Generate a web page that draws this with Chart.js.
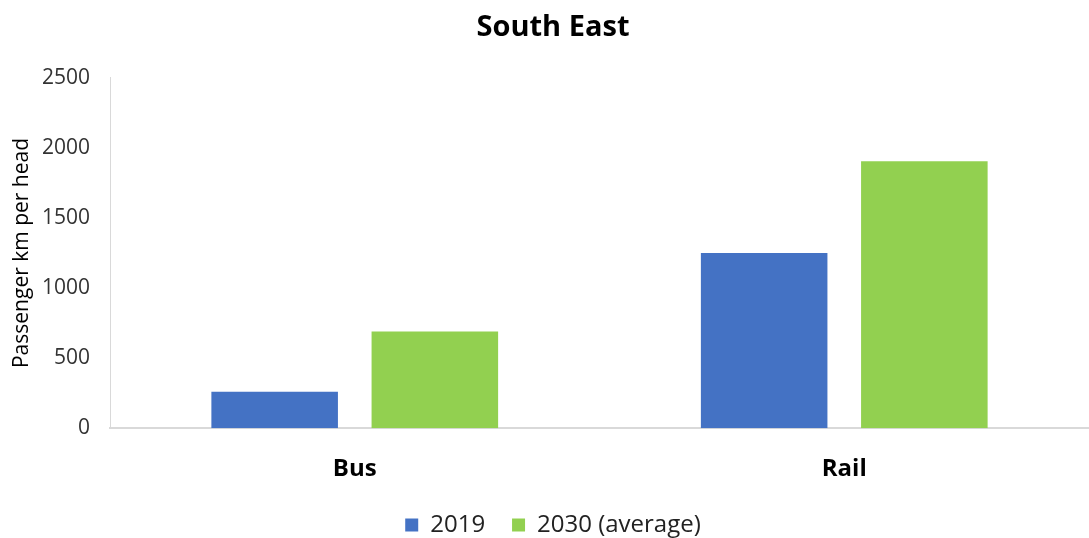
<!DOCTYPE html>
<html>
<head>
<meta charset="utf-8">
<script src="https://cdn.jsdelivr.net/npm/chart.js@4.4.1/dist/chart.umd.min.js"></script>
<style>
  html, body { margin: 0; padding: 0; background: #fff; }
  #wrap { width: 1089px; height: 538px; }
</style>
</head>
<body>
<div id="wrap"><canvas id="myChart" width="1089" height="538"></canvas></div>
<script>
'use strict';

// ****** Data ******
let categories = ['Bus', 'Rail'];
let values2019 = [260, 1250];
let values2030 = [690, 1905];
let seriesNames = ['2019', '2030 (average)'];
let yTicks = [0, 500, 1000, 1500, 2000, 2500];

const ctx = document.getElementById('myChart').getContext('2d');
const fontFamily = '"Open Sans", "Noto Sans", sans-serif';

let myChartObj = {
  type: 'bar',
  data: {
    labels: categories,
    datasets: [{
      label: seriesNames[0],
      data: values2019,
      backgroundColor: '#4472c4'
    },
    {
      label: seriesNames[1],
      data: values2030,
      backgroundColor: '#92d050'
    }]
  },
  options: {
    responsive: false,
    animation: false,
    categoryPercentage: 0.6545,
    barPercentage: 0.79,
    layout: { padding: { left: 9, right: -8, top: 4, bottom: -9 } },
    plugins: {
      title: {
        display: true,
        text: 'South East',
        color: '#000',
        font: { family: fontFamily, size: 29, weight: 'bold' },
        padding: { top: 6, bottom: 33 }
      },
      legend: {
        position: 'bottom',
        labels: {
          color: '#222',
          font: { family: fontFamily, size: 24 },
          boxWidth: 13,
          boxHeight: 13,
          padding: 2,
          // extra room between the two legend entries
          generateLabels: function(chart) {
            let items = Chart.defaults.plugins.legend.labels.generateLabels(chart);
            for (let i = 0; i < items.length - 1; i++) {
              items[i].text = items[i].text + '    ';
            }
            return items;
          }
        }
      },
      tooltip: { enabled: false }
    },
    scales: {
      x: {
        grid: { display: false, drawTicks: false },
        border: { color: '#d9d9d9', width: 2 },
        ticks: {
          color: '#000',
          padding: 27,
          font: { family: fontFamily, size: 24, weight: 'bold' }
        }
      },
      y: {
        min: 0,
        max: 2500,
        afterBuildTicks: function(axis) {
          axis.ticks = yTicks.map(v => ({ value: v }));
        },
        afterFit: function(axis) {
          axis.width = 101;
        },
        grid: { display: false, drawTicks: false },
        border: { color: '#d9d9d9', width: 1 },
        title: {
          display: true,
          text: 'Passenger km per head',
          color: '#000',
          font: { family: fontFamily, size: 21 },
          padding: { top: 0, bottom: 6 }
        },
        ticks: {
          color: '#333',
          padding: 20,
          font: { family: fontFamily, size: 21 },
          callback: function(value) { return String(value); }
        }
      }
    }
  }
};

const myChart = new Chart(ctx, myChartObj);
</script>
</body>
</html>
